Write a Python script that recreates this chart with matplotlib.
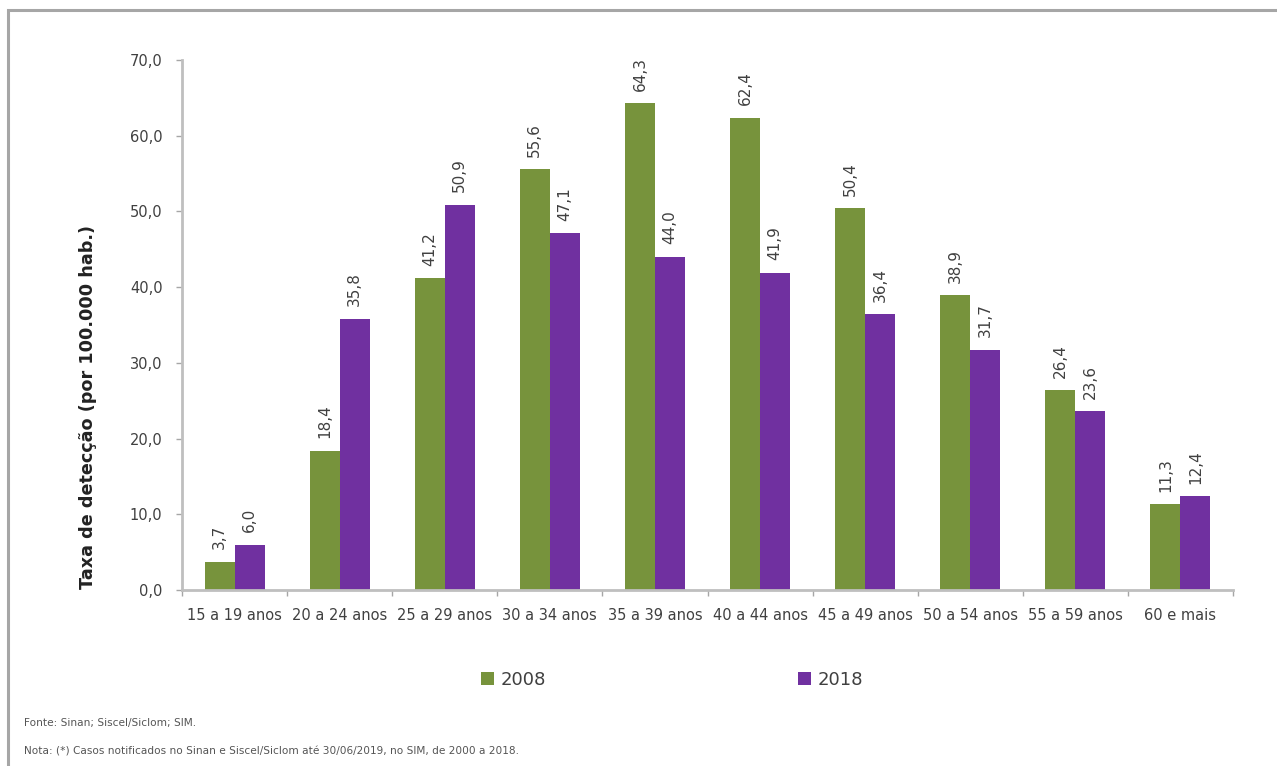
import matplotlib
matplotlib.use("Agg")
import matplotlib.pyplot as plt
from matplotlib.patches import Rectangle, Patch
import numpy as np

categories = ["15 a 19 anos", "20 a 24 anos", "25 a 29 anos", "30 a 34 anos",
              "35 a 39 anos", "40 a 44 anos", "45 a 49 anos", "50 a 54 anos",
              "55 a 59 anos", "60 e mais"]
vals_2008 = [3.7, 18.4, 41.2, 55.6, 64.3, 62.4, 50.4, 38.9, 26.4, 11.3]
vals_2018 = [6.0, 35.8, 50.9, 47.1, 44.0, 41.9, 36.4, 31.7, 23.6, 12.4]
series_names = ["2008", "2018"]
yticks = [0, 10, 20, 30, 40, 50, 60, 70]

green = "#77933C"
purple = "#7030A0"
txt = "#404040"

def fmt(v):
    return f"{v:.1f}".replace(".", ",")

fig = plt.figure(figsize=(12.77, 7.66), dpi=100)
fig.patch.set_facecolor("white")

# outer frame
fig.patches.append(Rectangle((8/1277, -0.05), 1.1, (1 - 10/766) + 0.05,
                             transform=fig.transFigure, fill=False,
                             edgecolor="#A6A6A6", linewidth=2.2))

ax = fig.add_axes([182/1277, 1 - 590/766, (1233 - 182)/1277, (590 - 60)/766])
x = np.arange(len(categories))
w = 0.285
b1 = ax.bar(x - w/2, vals_2008, w, color=green, label=series_names[0])
b2 = ax.bar(x + w/2, vals_2018, w, color=purple, label=series_names[1])

for bars, vals in ((b1, vals_2008), (b2, vals_2018)):
    for r, v in zip(bars, vals):
        ax.annotate(fmt(v), (r.get_x() + r.get_width()/2, v),
                    xytext=(0, 9), textcoords="offset points",
                    rotation=90, ha="center", va="bottom",
                    fontsize=11, color=txt)

ax.set_xlim(-0.5, len(categories) - 0.5)
ax.set_ylim(0, 70)
ax.set_yticks(yticks)
ax.set_yticklabels([fmt(t) for t in yticks], fontsize=10.5, color=txt)
ax.set_xticks(x)
ax.set_xticklabels(categories, fontsize=10.5, color=txt)
ax.set_xticks(np.arange(len(categories) + 1) - 0.5, minor=True)
ax.tick_params(axis="x", which="major", length=0, pad=13)
ax.tick_params(axis="x", which="minor", length=4, color="#A6A6A6", width=1)
ax.tick_params(axis="y", length=4, color="#A6A6A6", width=1, pad=10)

for s in ("top", "right"):
    ax.spines[s].set_visible(False)
for s in ("left", "bottom"):
    ax.spines[s].set_color("#BFBFBF")
    ax.spines[s].set_linewidth(2)

fig.text(88/1277, 1 - 407/766, "Taxa de detecção (por 100.000 hab.)",
         rotation=90, ha="center", va="center", fontsize=12.7,
         fontweight="bold", color="#222222")

handles = [Patch(facecolor=green, label=series_names[0]),
           Patch(facecolor=purple, label=series_names[1])]
fig.legend(handles=handles, loc="center", bbox_to_anchor=(672/1277, 1 - 680/766),
           ncol=2, frameon=False, fontsize=13, handlelength=0.7, handleheight=0.7,
           handletextpad=0.35, columnspacing=14, labelcolor=txt)

fig.text(24/1277, 1 - 723/766, "Fonte: Sinan; Siscel/Siclom; SIM.",
         fontsize=7.6, color="#555555", va="center")
fig.text(24/1277, 1 - 751/766,
         "Nota: (*) Casos notificados no Sinan e Siscel/Siclom até 30/06/2019, no SIM, de 2000 a 2018.",
         fontsize=7.6, color="#555555", va="center")

fig.savefig("out.png", dpi=100)
